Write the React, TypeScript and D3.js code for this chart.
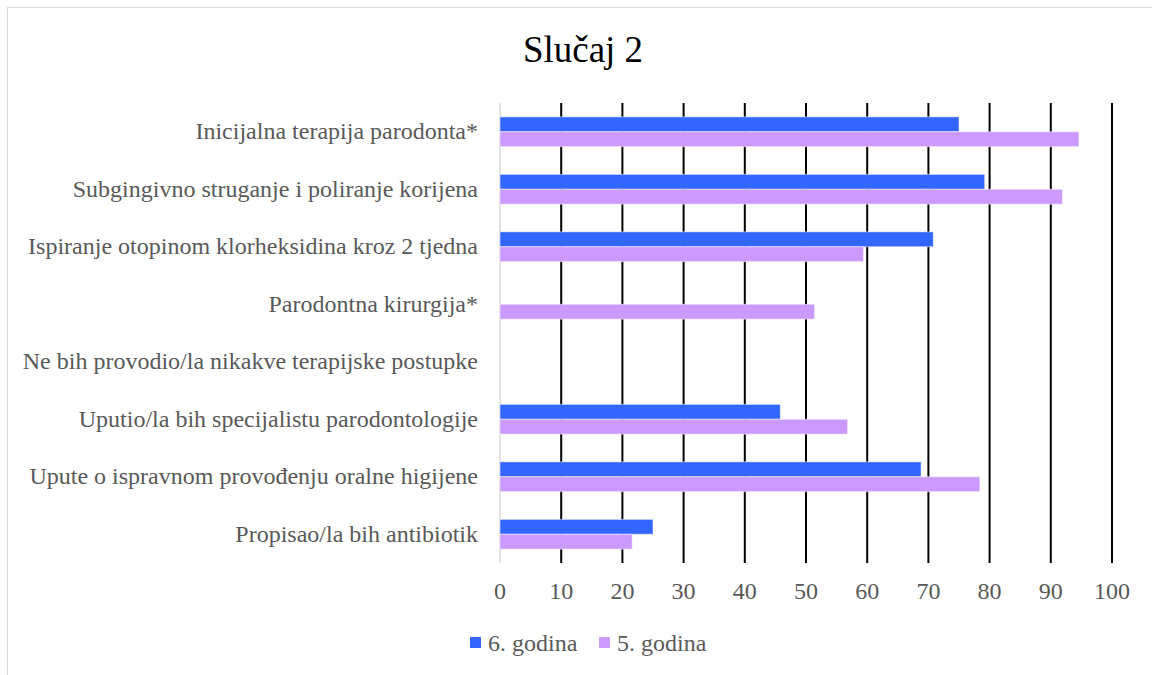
import React from "react";
import * as d3 from "d3";

// categories top to bottom
const categories = [
  "Inicijalna terapija parodonta*",
  "Subgingivno struganje i poliranje korijena",
  "Ispiranje otopinom klorheksidina kroz 2 tjedna",
  "Parodontna kirurgija*",
  "Ne bih provodio/la nikakve terapijske postupke",
  "Uputio/la bih specijalistu parodontologije",
  "Upute o ispravnom provođenju oralne higijene",
  "Propisao/la bih antibiotik",
];
const seriesNames = ["6. godina", "5. godina"];
const godina6 = [75, 79.2, 70.8, 0, 0, 45.8, 68.8, 25];
const godina5 = [94.6, 91.9, 59.4, 51.4, 0, 56.8, 78.4, 21.6];
const xTicks = [0, 10, 20, 30, 40, 50, 60, 70, 80, 90, 100];
const colors = ["#3366ff", "#cc99ff"];

const W = 1152;
const H = 675;
const margin = { top: 103, right: 40, bottom: 112, left: 500 };
const font = "Liberation Serif";

export default function App() {
  const x = d3
    .scaleLinear()
    .domain([0, 100])
    .range([margin.left, W - margin.right]);
  const y = d3
    .scaleBand()
    .domain(categories)
    .range([margin.top, H - margin.bottom]);
  const inner = d3
    .scaleBand()
    .domain(seriesNames)
    .range([0, y.bandwidth()])
    .paddingOuter(0.93);

  const series = [godina6, godina5];

  return (
    <svg
      width={W}
      height={H}
      style={{ position: "absolute", left: 0, top: 0, background: "#fff", fontFamily: font }}
    >
      {/* chart border */}
      <rect x={7.5} y={7.5} width={W} height={H} fill="#fff" stroke="#d9d9d9" />

      <text x={583} y={62} textAnchor="middle" fontSize={37} fill="#000">
        Slučaj 2
      </text>

      {/* gridlines */}
      {xTicks.map((t) => (
        <line
          key={t}
          x1={x(t)}
          x2={x(t)}
          y1={margin.top}
          y2={H - margin.bottom}
          stroke={t === 0 ? "#d9d9d9" : "#000"}
          strokeWidth={t === 0 ? 1.5 : 2}
        />
      ))}

      {/* bars */}
      {series.map((vals, si) =>
        categories.map((c, i) =>
          vals[i] > 0 ? (
            <rect
              key={si + "-" + i}
              x={x(0)}
              y={(y(c) as number) + (inner(seriesNames[si]) as number)}
              width={x(vals[i]) - x(0)}
              height={inner.bandwidth()}
              fill={colors[si]}
              stroke="#ffffff"
              strokeOpacity={0.5}
              strokeWidth={1}
            />
          ) : null
        )
      )}

      {/* category labels */}
      {categories.map((c) => (
        <text
          key={c}
          x={478}
          y={(y(c) as number) + y.bandwidth() / 2}
          dy="0.32em"
          textAnchor="end"
          fontSize={24}
          fill="#595959"
        >
          {c}
        </text>
      ))}

      {/* x tick labels */}
      {xTicks.map((t) => (
        <text
          key={t}
          x={x(t)}
          y={591}
          dy="0.32em"
          textAnchor="middle"
          fontSize={24}
          fill="#595959"
        >
          {t}
        </text>
      ))}

      {/* legend */}
      {seriesNames.map((s, i) => (
        <g key={s} transform={`translate(${470 + i * 129},637)`}>
          <rect width={11} height={11} fill={colors[i]} />
          <text x={18} y={6} dy="0.32em" fontSize={24} fill="#595959">
            {s}
          </text>
        </g>
      ))}
    </svg>
  );
}
